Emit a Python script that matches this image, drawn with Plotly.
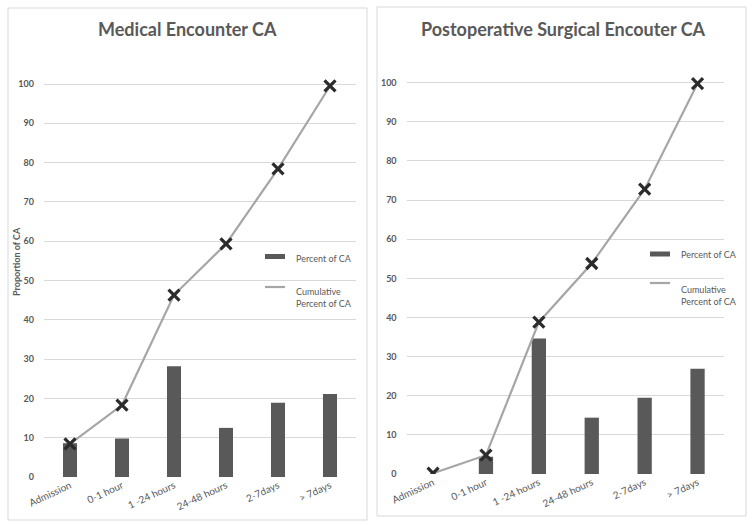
import plotly.graph_objects as go

categories = ["Admission", "0-1 hour", "1 -24 hours", "24-48 hours", "2-7days", "> 7days"]
med_percent = [8.6, 9.8, 28.2, 12.5, 18.9, 21.1]
med_cumulative = [8.4, 18.3, 46.3, 59.3, 78.4, 99.5]
surg_percent = [0.0, 4.4, 34.6, 14.4, 19.5, 26.9]
surg_cumulative = [0.2, 4.8, 38.8, 53.8, 72.8, 99.8]
y_ticks = [0, 10, 20, 30, 40, 50, 60, 70, 80, 90, 100]

W, H = 754, 526
FONT = "Lato"
DARK = "#595959"
BAR = "#595959"
LINE = "#a6a6a6"
GRID = "#d9d9d9"
XMARK = "#2b2b2b"


def px(x):
    return x / W


def py(y):
    return 1 - y / H


fig = go.Figure()

panels = [
    ("x", "y", med_percent, med_cumulative),
    ("x2", "y2", surg_percent, surg_cumulative),
]
for xa, ya, pct, cum in panels:
    fig.add_trace(go.Bar(x=categories, y=pct, xaxis=xa, yaxis=ya, width=0.27,
                         marker=dict(color=BAR, line=dict(width=0)),
                         name="Percent of CA", showlegend=False))
    fig.add_trace(go.Scatter(x=categories, y=cum, xaxis=xa, yaxis=ya, mode="lines",
                             line=dict(color=LINE, width=2.2),
                             name="Cumulative Percent of CA", showlegend=False))
    fig.add_trace(go.Scatter(x=categories, y=cum, xaxis=xa, yaxis=ya, mode="markers",
                             marker=dict(symbol="x-thin", size=11, color=XMARK,
                                         line=dict(color=XMARK, width=3.2)),
                             showlegend=False, hoverinfo="skip"))

yaxis_common = dict(range=[0, 110], tickvals=y_ticks, showgrid=True, gridcolor=GRID,
                    gridwidth=1, zeroline=False, showline=False, ticks="",
                    tickfont=dict(family=FONT, size=9, color=DARK, weight="bold"),
                    ticklabelstandoff=9, fixedrange=True, automargin=False)
xaxis_common = dict(showgrid=False, zeroline=False, showline=False, ticks="",
                    tickangle=-25, tickfont=dict(family=FONT, size=10, color=DARK),
                    range=[-0.5, 5.5], fixedrange=True, automargin=False)

fig.update_layout(
    width=W, height=H,
    margin=dict(l=0, r=0, t=0, b=0, autoexpand=False),
    paper_bgcolor="white", plot_bgcolor="white",
    showlegend=False,
    xaxis=dict(domain=[px(44), px(356)], anchor="y", **xaxis_common),
    yaxis=dict(domain=[py(477), py(44.7)], anchor="x", **yaxis_common),
    xaxis2=dict(domain=[px(406.6), px(724)], anchor="y2", **xaxis_common),
    yaxis2=dict(domain=[py(474), py(43.6)], anchor="x2", **yaxis_common),
)

shapes = [
    dict(type="rect", xref="paper", yref="paper", x0=px(8), x1=px(367), y0=py(520), y1=py(8),
         line=dict(color=GRID, width=1), fillcolor="rgba(0,0,0,0)", layer="below"),
    dict(type="rect", xref="paper", yref="paper", x0=px(377), x1=px(746), y0=py(516), y1=py(7),
         line=dict(color=GRID, width=1), fillcolor="rgba(0,0,0,0)", layer="below"),
]

annotations = [
    dict(text="<b>Medical Encounter CA</b>", x=px(187), y=py(29), xref="paper", yref="paper",
         showarrow=False, xanchor="center", yanchor="middle",
         font=dict(family=FONT, size=18, color=DARK)),
    dict(text="<b>Postoperative Surgical Encouter CA</b>", x=px(563), y=py(29), xref="paper",
         yref="paper", showarrow=False, xanchor="center", yanchor="middle",
         font=dict(family=FONT, size=18, color=DARK)),
    dict(text="<b>Proportion of CA</b>", x=px(17), y=py(262), xref="paper", yref="paper",
         showarrow=False, textangle=-90, xanchor="center", yanchor="middle",
         font=dict(family=FONT, size=9, color=DARK)),
]

# manual legends (Excel style)
legends = [
    (265, 285, 256.5, 294, 259, 287, 297),
    (650, 670, 254, 679, 254, 283, 295),
]
for sx0, sx1, bar_y, tx, ty1, line_y, ty2 in legends:
    shapes.append(dict(type="rect", xref="paper", yref="paper", x0=px(sx0), x1=px(sx1),
                       y0=py(bar_y + 2.5), y1=py(bar_y - 2.5), fillcolor=BAR,
                       line=dict(width=0)))
    shapes.append(dict(type="line", xref="paper", yref="paper", x0=px(sx0), x1=px(sx1),
                       y0=py(line_y), y1=py(line_y), line=dict(color=LINE, width=2.2)))
    annotations.append(dict(text="Percent of CA", x=px(tx), y=py(ty1), xref="paper",
                            yref="paper", showarrow=False, xanchor="left", yanchor="middle",
                            font=dict(family=FONT, size=9, color=DARK)))
    annotations.append(dict(text="Cumulative<br>Percent of CA", x=px(tx), y=py(ty2),
                            xref="paper", yref="paper", showarrow=False, xanchor="left",
                            yanchor="middle", align="left",
                            font=dict(family=FONT, size=9, color=DARK)))

fig.update_layout(shapes=shapes, annotations=annotations)

fig.write_html("out.html", config={"displayModeBar": False, "staticPlot": True},
               post_script="document.body.style.margin='0';document.body.style.overflow='hidden';")
